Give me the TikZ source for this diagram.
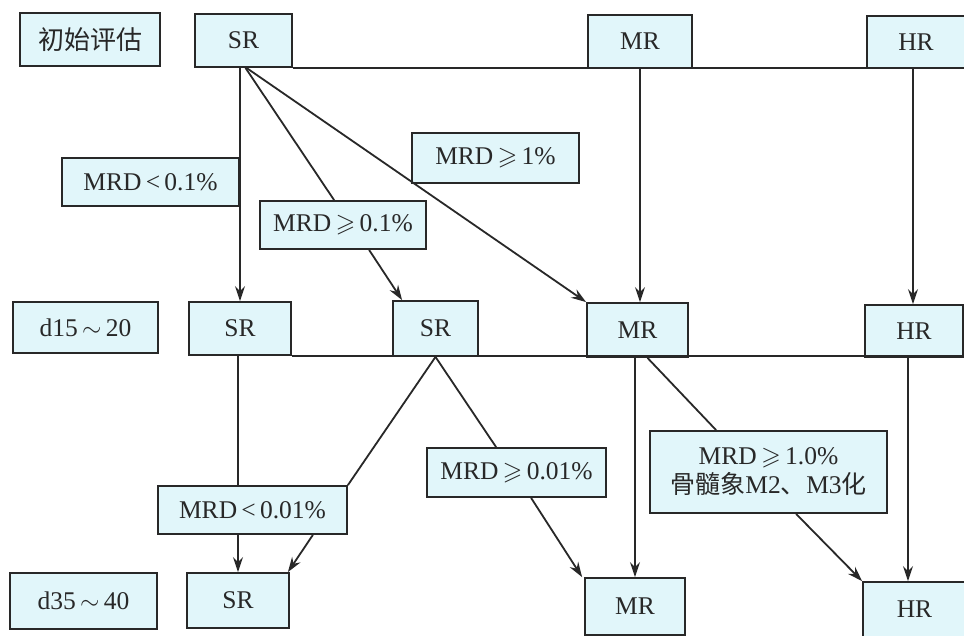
\documentclass[tikz,border=0pt]{standalone}
\usepackage{fontspec}
\usepackage{amssymb}
\setmainfont{Liberation Serif}
\newfontfamily\cjk{Noto Sans CJK SC}
\usetikzlibrary{arrows.meta,calc}
\definecolor{boxfill}{RGB}{225,246,250}
\definecolor{ink}{RGB}{40,40,40}
\newcommand\gq{\,$\geqslant$\,}
\begin{document}
\begin{tikzpicture}[x=1pt,y=-1pt,
  box/.style={draw=ink, line width=1.8pt, fill=boxfill, inner sep=0pt, text=ink,
              font=\fontsize{25.5}{29}\selectfont, align=center},
  conn/.style={draw=ink, line width=1.8pt},
  arr/.style={conn, -{Stealth[length=15pt,width=10pt,inset=5pt]}}]
\useasboundingbox (0,0) rectangle (964,635);
\fill[white] (0,0) rectangle (964,635);

% row 1
\node[box, minimum width=140pt, minimum height=53pt] (l1) at (90,39.5) {\cjk\fontsize{26}{29}\selectfont 初始评估};
\node[box, minimum width=97pt, minimum height=53pt] (a1) at (243.5,40.5) {SR};
\node[box, minimum width=104pt, minimum height=53pt] (b1) at (640,41.5) {MR};
\node[box, minimum width=98pt, minimum height=52pt] (c1) at (916,42) {HR};
\coordinate (r1end) at (964,67);

% row 2
\node[box, minimum width=145pt, minimum height=51pt] (l2) at (85.5,327.5) {d15\,$\sim$\,20};
\node[box, minimum width=102pt, minimum height=53pt] (a2) at (240,328.5) {SR};
\node[box, minimum width=85pt, minimum height=55pt] (s2) at (435.5,328.5) {SR};
\node[box, minimum width=101pt, minimum height=54pt] (b2) at (637.5,330) {MR};
\node[box, minimum width=98pt, minimum height=52pt] (c2) at (914,331) {HR};
\coordinate (r2end) at (964,356);

% row 3
\node[box, minimum width=147pt, minimum height=56pt] (l3) at (83.5,601) {d35\,$\sim$\,40};
\node[box, minimum width=102pt, minimum height=55pt] (a3) at (238,600.5) {SR};
\node[box, minimum width=100pt, minimum height=57pt] (b3) at (635,606.5) {MR};
\node[box, minimum width=103pt, minimum height=55pt] (c3) at (914.5,609.5) {HR};

% horizontal bars
\draw[conn] (a1.south east) -- (a1.south east -| r1end);
\draw[conn] (a2.south east) -- (a2.south east -| r2end);

% condition boxes
\node[box, minimum width=177pt, minimum height=48pt] (m1) at (150.5,182) {MRD\,<\,0.1\%};
\node[box, minimum width=166pt, minimum height=48pt] (m2) at (343,225) {MRD\gq0.1\%};
\node[box, minimum width=167pt, minimum height=50pt] (m3) at (495.5,158) {MRD\gq1\%};
\node[box, minimum width=189pt, minimum height=48pt] (m4) at (252.5,510) {MRD\,<\,0.01\%};
\node[box, minimum width=179pt, minimum height=49pt] (m5) at (516.5,472.5) {MRD\gq0.01\%};
\node[box, minimum width=237pt, minimum height=82pt] (m6) at (768.5,472) {MRD\gq1.0\%\\{\cjk\fontsize{25}{29}\selectfont 骨髓象}M2{\cjk 、}M3{\cjk\fontsize{25}{29}\selectfont 化}};

% connectors from row 1
\draw[arr] (a1.south -| a2.north) -- (a2.north);
\draw[conn] ($(a1.south)+(2,0)$) -- ($(m2.north west)+(75,0)$);
\draw[arr] ($(m2.south west)+(110,0)$) -- ($(s2.north west)+(10,0)$);
\draw[arr] ($(a1.south)+(3,0)$) -- (b2.north west);
\draw[arr] (b1.south) -- (b1.south |- b2.north);
\draw[arr] ($(c1.south)+(-3,0)$) -- ($(c1.south |- c2.north)+(-3,0)$);

% connectors from row 2
\draw[conn] (a3.north |- a2.south) -- (a3.north |- m4.north);
\draw[arr] (a3.north |- m4.south) -- (a3.north);
\draw[conn] (s2.south) -- (m4.north east);
\draw[arr] ($(m4.south east)+(-35,0)$) -- ($(a3.north east)+(-2,0)$);
\draw[conn] (s2.south) -- ($(m5.north west)+(70,0)$);
\draw[arr] ($(m5.south west)+(105,0)$) -- ($(b3.north west)+(-2,0)$);
\draw[arr] (b3.north |- b2.south) -- (b3.north);
\draw[conn] ($(b2.south)+(10,0)$) -- ($(m6.north west)+(67,0)$);
\draw[arr] ($(m6.south west)+(147,0)$) -- (c3.north west);
\draw[arr] ($(c2.south)+(-6,0)$) -- ($(c2.south |- c3.north)+(-6,0)$);
\end{tikzpicture}
\end{document}
